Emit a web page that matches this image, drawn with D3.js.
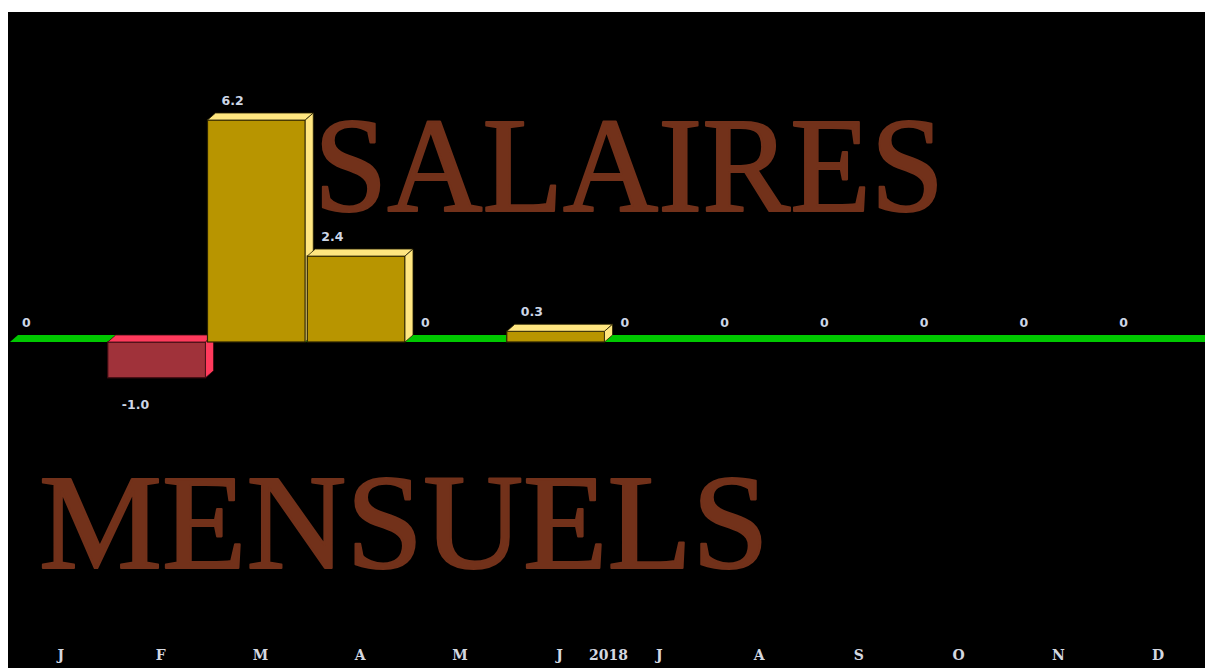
<!DOCTYPE html>
<html>
<head>
<meta charset="utf-8">
<script src="https://cdn.jsdelivr.net/npm/d3@7"></script>
<style>
  body { margin: 0; background: #fff; }
  svg { display: block; }
</style>
</head>
<body>
<script>
// data
const months = ["J", "F", "M", "A", "M", "J", "J", "A", "S", "O", "N", "D"];
const values = [0, -1.0, 6.2, 2.4, 0, 0.3, 0, 0, 0, 0, 0, 0];
const yearLabel = "2018";
const titleTop = "SALAIRES";
const titleBottom = "MENSUELS";

document.addEventListener("DOMContentLoaded", () => {
  const width = 1205;
  const height = 668;
  const left = 8;
  const top = 12;
  const depthX = 8;
  const depthY = 7;

  const svg = d3.select('body')
    .append('svg')
    .attr('width', width)
    .attr('height', height);

  svg.append('rect')
    .attr('x', left).attr('y', top)
    .attr('width', width - left).attr('height', height - top)
    .attr('fill', '#000');

  const x = d3.scaleBand()
    .domain(d3.range(months.length))
    .range([left, width])
    .paddingInner(0)
    .paddingOuter(0);

  const y = d3.scaleLinear()
    .domain([-1, 6.2])
    .range([377.8, 120]);

  const barW = x.bandwidth() - 2;
  const y0 = y(0);

  // big background words (a bit heavier than plain Times)
  const bigText = (tx, ty, len, str) => svg.append('text')
    .attr('x', tx).attr('y', ty)
    .attr('textLength', len)
    .attr('lengthAdjust', 'spacingAndGlyphs')
    .style('font-family', '"Liberation Serif", "Times New Roman", serif')
    .style('font-size', '135px')
    .attr('fill', '#72311a')
    .attr('stroke', '#72311a')
    .attr('stroke-width', 2.2)
    .attr('stroke-linejoin', 'round')
    .text(str);

  bigText(314, 211, 630, titleTop);
  bigText(39, 568, 730, titleBottom);

  // green floor at zero
  svg.append('polygon')
    .attr('points', [
      [left + 2, y0], [width + 10, y0],
      [width + 10 + depthX, y0 - depthY], [left + 2 + depthX, y0 - depthY]
    ].map(p => p.join(',')).join(' '))
    .attr('fill', '#00c800');

  const bars = svg.append('g');

  values.forEach((v, i) => {
    if (v === 0) return;
    const x0 = x(i);
    const x1 = x0 + barW;
    const yTop = Math.min(y(v), y0);
    const yBot = Math.max(y(v), y0);
    const pos = v > 0;
    const front = pos ? '#b89500' : '#a0323a';
    const light = pos ? '#ffe680' : '#ff3a5c';
    const edge = pos ? '#2a2200' : '#3a0a10';

    const g = bars.append('g');
    // front
    g.append('rect')
      .attr('x', x0).attr('y', yTop)
      .attr('width', barW).attr('height', yBot - yTop)
      .attr('fill', front)
      .attr('stroke', edge).attr('stroke-width', 1.2);
    // top
    g.append('polygon')
      .attr('points', [
        [x0, yTop], [x1, yTop], [x1 + depthX, yTop - depthY], [x0 + depthX, yTop - depthY]
      ].map(p => p.join(',')).join(' '))
      .attr('fill', light)
      .attr('stroke', edge).attr('stroke-width', 0.8);
    // side
    g.append('polygon')
      .attr('points', [
        [x1, yTop], [x1 + depthX, yTop - depthY], [x1 + depthX, yBot - depthY], [x1, yBot]
      ].map(p => p.join(',')).join(' '))
      .attr('fill', light)
      .attr('stroke', edge).attr('stroke-width', 0.8);
  });

  // value labels
  svg.append('g').selectAll('text')
    .data(values)
    .enter()
    .append('text')
    .attr('x', (d, i) => x(i) + 14)
    .attr('y', d => d < 0 ? y(d) + 31 : y(d) - depthY - 8)
    .style('font-family', '"DejaVu Sans", Verdana, sans-serif')
    .style('font-weight', 'bold')
    .style('font-size', '12.5px')
    .attr('fill', '#cdd6e6')
    .text(d => d === 0 ? '0' : d.toFixed(1));

  // month labels
  svg.append('g').selectAll('text')
    .data(months)
    .enter()
    .append('text')
    .attr('x', (d, i) => x(i) + (barW + depthX) / 2)
    .attr('y', 660)
    .attr('text-anchor', 'middle')
    .style('font-family', '"DejaVu Serif", serif')
    .style('font-weight', 'bold')
    .style('font-size', '14px')
    .attr('fill', '#d4d8e0')
    .text(d => d);

  svg.append('text')
    .attr('x', x(6) + 2)
    .attr('y', 660)
    .attr('text-anchor', 'middle')
    .style('font-family', '"DejaVu Serif", serif')
    .style('font-weight', 'bold')
    .style('font-size', '14px')
    .attr('fill', '#d4d8e0')
    .text(yearLabel);
});
</script>
</body>
</html>
